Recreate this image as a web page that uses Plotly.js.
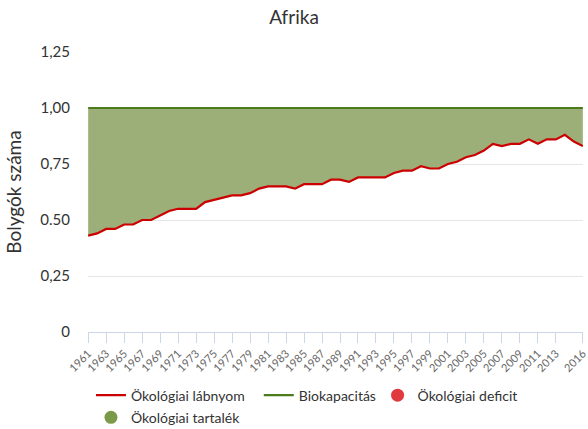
<!DOCTYPE html>
<html>
<head>
<meta charset="utf-8">
<script src="https://cdn.plot.ly/plotly-3.0.1.min.js"></script>
<style>html,body{margin:0;padding:0;background:#fff;}#chart{width:588px;height:429px;}</style>
</head>
<body>
<div id="chart"></div>
<script>
const years = [];
for (let y = 1961; y <= 2016; y++) years.push(y);
const footprint = [0.43,0.44,0.46,0.46,0.48,0.48,0.50,0.50,0.52,0.54,0.55,0.55,0.55,0.58,
  0.59,0.60,0.61,0.61,0.62,0.64,0.65,0.65,0.65,0.64,0.66,0.66,0.66,0.68,0.68,0.67,
  0.69,0.69,0.69,0.69,0.71,0.72,0.72,0.74,0.73,0.73,0.75,0.76,0.78,0.79,0.81,0.84,
  0.83,0.84,0.84,0.86,0.84,0.86,0.86,0.88,0.85,0.83];
const biocapacity = years.map(() => 1.0);
const xTickVals = [1961,1963,1965,1967,1969,1971,1973,1975,1977,1979,1981,1983,1985,1987,1989,
  1991,1993,1995,1997,1999,2001,2003,2005,2007,2009,2011,2013,2016];
const xTickText = xTickVals.map(String);
const yTickVals = [0,0.25,0.5,0.75,1.0,1.25];
const yTickText = ["0","0,25","0.50","0,75","1,00","1,25"];

const FONT = "Lato, 'Open Sans', sans-serif";
const traces = [
  {x: years, y: footprint, mode: 'lines', line: {width: 0, color: 'rgba(0,0,0,0)'}, showlegend: false, hoverinfo: 'skip'},
  {x: years, y: biocapacity, mode: 'lines', fill: 'tonexty', fillcolor: '#9caf78', line: {width: 0, color: 'rgba(0,0,0,0)'}, showlegend: false, hoverinfo: 'skip'},
  {x: years, y: footprint, mode: 'lines', name: 'Ökológiai lábnyom', line: {color: '#cc0000', width: 2.2}, legend: 'legend'},
  {x: years, y: biocapacity, mode: 'lines', name: 'Biokapacitás', line: {color: '#4d7a1a', width: 2.2}, legend: 'legend2'},
  {x: [null], y: [null], mode: 'markers', name: 'Ökológiai deficit', marker: {color: '#e0393e', size: 13}, legend: 'legend3'},
  {x: [null], y: [null], mode: 'markers', name: 'Ökológiai tartalék', marker: {color: '#7a9a4a', size: 13}, legend: 'legend4'}
];
const legendBase = {orientation: 'h', traceorder: 'normal', xanchor: 'left', yanchor: 'top',
  font: {size: 14, color: '#333'}, itemwidth: 30, tracegroupgap: 0, bgcolor: 'rgba(0,0,0,0)'};
const layout = {
  width: 588, height: 429,
  margin: {l: 88, r: 5, t: 52, b: 97, autoexpand: false},
  paper_bgcolor: '#fff', plot_bgcolor: '#fff',
  font: {family: FONT, color: '#333'},
  title: {text: 'Afrika', font: {family: FONT, size: 19, color: '#333'}, x: 0.5, xanchor: 'center', y: 0.96, yanchor: 'middle'},
  xaxis: {
    range: [1960.98, 2016.02], tickmode: 'array', tickvals: xTickVals, ticktext: xTickText,
    tickangle: -45, tickfont: {size: 11, color: '#666'}, automargin: false, ticklabeloverflow: 'allow',
    showgrid: false, zeroline: false, showline: true, linecolor: '#ccd6eb', linewidth: 1,
    ticks: 'outside', ticklen: 10, tickcolor: '#ccd6eb'
  },
  yaxis: {
    range: [0, 1.25], tickmode: 'array', tickvals: yTickVals, ticktext: yTickText,
    tickfont: {size: 15, color: '#333'}, showgrid: true, gridcolor: '#e6e6e6', zeroline: false,
    ticklabelstandoff: 17, automargin: false,
    title: {text: 'Bolygók száma', font: {size: 19, color: '#333'}, standoff: 13}
  },
  legend: Object.assign({}, legendBase, {x: 0.006, y: -0.17}),
  legend2: Object.assign({}, legendBase, {x: 0.345, y: -0.17}),
  legend3: Object.assign({}, legendBase, {x: 0.585, y: -0.17}),
  legend4: Object.assign({}, legendBase, {x: 0.006, y: -0.249}),
  showlegend: true
};
Plotly.newPlot('chart', traces, layout, {displayModeBar: false, staticPlot: true});
</script>
</body>
</html>
